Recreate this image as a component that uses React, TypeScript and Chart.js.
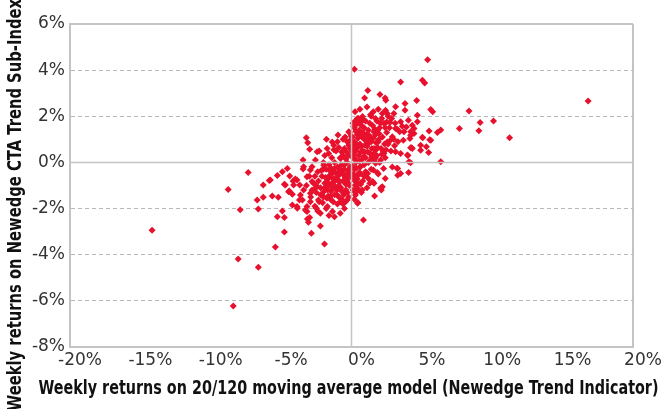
import React, { useEffect, useRef } from "react";
import { Chart, registerables } from "chart.js";

Chart.register(...registerables);

const xTitle = "Weekly returns on 20/120 moving average model (Newedge Trend Indicator)";
const yTitle = "Weekly returns on Newedge CTA Trend Sub-Index";

const xTicks = [-20, -15, -10, -5, 0, 5, 10, 15, 20];
const yTicks = [-8, -6, -4, -2, 0, 2, 4, 6];

// [x %, y %] — sparse points and outliers
const outerPoints: [number, number][] = [
  [16.81, 2.66], [-14.17, -2.94], [-8.4, -6.22], [-8.05, -4.19], [-6.62, -4.54], [-8.76, -1.17], [-7.91, -2.05],
  [-7.34, -0.44], [-6.62, -2.02], [-6.7, -1.63], [-6.27, -1.51], [-6.27, -0.98], [-5.84, -0.78], [-5.63, -1.46],
  [-5.2, -1.51], [-5.27, -0.57], [-4.91, -0.4], [-4.56, -0.26], [-4.77, -0.95], [-4.42, -1.24], [-4.2, -1.38],
  [-4.2, -1.84], [-3.85, -1.99], [-5.27, -2.35], [-4.77, -2.39], [-4.91, -2.1], [-4.77, -3.02], [-5.41, -3.67],
  [-3.13, -2.45], [-3.06, -2.59], [-2.85, -3.07], [-2.21, -2.2], [-2.21, -2.75], [-1.92, -3.54], [-1.35, -2.13],
  [-1.21, -2.35], [-3.28, -2.06], [-2.49, -1.99], [-1.71, -1.91], [-3.49, -1.63], [-2.92, -1.7], [-2.35, -1.63],
  [-0.78, -1.7], [-0.43, -1.7], [0.43, -1.77], [0.85, -2.49], [1.64, -1.46], [2.14, -1.08], [1.5, -0.83],
  [1.14, -0.48], [2.28, -0.26], [3.28, -0.26], [3.28, -0.56], [3.49, -0.48], [4.06, -0.44], [6.34, 0.03],
  [5.48, 0.43], [4.91, 0.53], [4.32, 0.6], [0.43, -1.2], [0.28, -0.98],
  [0.21, 4.04], [5.41, 4.45], [3.49, 3.49], [5.04, 3.56], [5.2, 3.44], [1.16, 3.12], [0.93, 2.79], [2.02, 2.94],
  [2.39, 2.79], [2.44, 2.69], [4.63, 2.68], [3.8, 2.55], [3.8, 2.26], [3.13, 2.41], [5.63, 2.29], [5.77, 2.2],
  [8.35, 2.23], [9.14, 1.73], [10.09, 1.8], [7.67, 1.47], [9.05, 1.37], [11.23, 1.07], [6.34, 1.41], [6.1, 1.3],
  [5.51, 1.36], [5.56, 0.98], [5.06, 1.07], [4.27, 0.64], [5.32, 0.68], [4.01, 0.3], [4.2, -0.01], [3.23, -0.25],
  [2.19, -1.05], [2.54, 2.12], [4.68, 2.04], [4.68, 1.76], [4.04, 1.83], [3.49, 1.76], [3.25, 1.44], [3.68, 0.96],
  [4.15, 1.04], [4.44, 1.25], [4.2, 1.33], [3.9, 1.54], [3.42, 1.33], [3.49, 0.39], [3.06, 0.72], [2.42, 2.26],
  [1.35, 2.07], [1.71, 1.9], [3.01, 2.12], [3.61, 1.57], [4.44, 1.47], [5.04, 1.09], [4.2, 1.18], [4.2, 0.64],
  [4.91, 0.75], [1.83, -0.44], [2.07, -1.12], [0.41, -1.12], [0.28, -1.41],
  [-3.21, 1.07], [-3.11, 0.85], [-1.78, 1.01], [-0.96, 1.19], [-2.97, 0.57], [-2.44, 0.46], [-3.44, 0.1],
  [-5.77, -0.76], [-4.39, -0.59], [-3.87, -0.76], [-3.44, -0.29], [-2.92, -0.33], [-4.11, -0.98], [-3.63, -1.41],
  [-4.47, -1.27], [-1.37, 0.89], [-1.26, 0.75], [-0.19, 1.33], [-0.02, 1.15], [-1.73, 0.6], [-1.62, 0.39],
  [-0.78, 0.17], [-2.56, 0.1], [-3.4, -0.19], [-2.8, -0.19], [-1.97, -0.12], [-4.15, -0.81], [-3.99, -0.72],
  [-3.7, -1.63], [-4.7, -0.98], [-3.68, -0.98], [-3.16, -0.62], [-3.87, -1.91], [-3.16, -1.91], [-3.16, -2.13],
  [-2.97, -2.39], [-3.4, -1.2], [-2.92, -1.34], [-2.56, -1.12], [-2.09, -1.41], [-1.5, -1.48], [-1.02, -1.41],
  [-0.78, -0.36], [-1.62, -0.69], [-2.8, -0.83], [-0.31, -0.76], [-0.31, -1.63],
  [1.35, 0.1], [1.71, -0.04], [2.07, 0.1], [1.55, -0.33], [0.64, -0.48], [0.41, -0.72], [0.64, -0.19],
  [2.12, -1.2], [0.76, -1.2], [0.45, -1.74], [2.19, 2.12], [0.64, 1.73], [2.73, 1.73], [4.32, 1.61], [3.13, 1.47],
  [3.73, 1.33], [5.63, 0.96], [2.9, 1.11], [2.54, 0.89], [3.97, 0.32], [3.13, 0.46], [2.3, 0.39], [1.71, 0.53],
  [1.23, 1.04], [1.59, 1.33], [0.52, 1.33], [0.41, 1.9], [4.08, 0.03], [0.28, 1.81], [0.14, 1.56], [0.78, 1.99],
];

// [x %, y %] — dense core of the cloud
const corePoints: [number, number][] = [
  [0.1, 0.2], [0.3, 0.5], [0.2, 0.9], [0.5, 0.3], [0.6, 0.8], [0.4, 1.2], [0.8, 0.5], [0.9, 1.0], [1.0, 0.2],
  [1.1, 0.7], [1.2, 1.4], [1.3, 0.4], [1.4, 0.9], [1.5, 1.6], [1.6, 0.6], [1.7, 1.2], [1.8, 0.3], [1.9, 0.9],
  [2.0, 1.5], [2.1, 0.6], [2.2, 1.1], [2.3, 1.7], [2.4, 0.2], [2.5, 1.3], [0.2, 1.5], [0.7, 1.6], [0.1, 0.6],
  [0.3, 0.0], [0.7, 0.1], [0.9, 1.5], [1.0, 1.8], [1.2, 0.0], [1.6, 0.1], [2.0, 0.0], [2.6, 0.8], [2.8, 0.5],
  [2.7, 1.5], [3.0, 1.0], [0.5, 1.9], [0.05, 1.1], [0.15, 0.35], [0.45, 0.65], [0.65, 0.45], [0.85, 0.25],
  [1.05, 1.2], [1.25, 0.85], [1.45, 0.25], [1.65, 1.45], [1.85, 0.65], [0.35, 0.8], [0.55, 1.4], [0.75, 1.1],
  [0.95, 0.75], [1.15, 0.45], [1.35, 1.1], [1.55, 0.35], [1.75, 0.85], [1.95, 1.25], [2.15, 0.35], [2.35, 0.8],
  [0.25, 2.2], [1.4, 2.0], [1.8, 1.8], [2.6, 2.0],
  [0.15, 0.75], [0.35, 1.65], [0.6, 2.3], [0.85, 1.85], [1.1, 2.4], [1.3, 1.7], [1.55, 2.2], [1.9, 2.3],
  [2.15, 1.9], [2.5, 1.75], [2.85, 1.9], [3.1, 1.7], [2.75, 0.95], [2.45, 0.55], [3.3, 0.9], [0.25, 0.15],
  [0.55, 0.05], [0.95, 0.45], [1.05, 0.95], [1.45, 0.6], [1.7, 0.2], [2.25, 0.5], [1.95, 1.0], [0.7, 0.7],
  [0.45, 1.05], [0.3, 1.35], [0.8, 1.3], [1.2, 1.2], [1.55, 1.05], [1.85, 1.4], [2.05, 1.7], [2.4, 1.5],
  [0.05, 0.45], [0.1, 1.7], [0.6, 1.15],
  [0.2, -0.3], [0.4, -0.6], [0.6, -0.2], [0.8, -0.8], [1.0, -0.4], [1.2, -0.7], [0.3, -1.0], [0.1, -0.7],
  [0.5, -0.9], [0.9, -0.1], [1.4, -0.3], [1.6, -0.9], [1.9, -0.5], [0.7, -1.3], [0.2, -1.6], [1.1, -1.1],
  [2.4, -0.7], [2.9, -0.2], [0.05, -0.15], [0.35, -0.25],
  [0.15, -0.5], [0.25, -0.8], [0.55, -0.45], [0.3, -1.3], [0.1, -1.2], [0.65, -0.95], [0.9, -0.6], [1.3, -0.9],
  [-0.1, -0.2], [-0.3, -0.5], [-0.2, -0.9], [-0.5, -0.3], [-0.6, -0.8], [-0.4, -1.2], [-0.8, -0.5], [-0.9, -1.0],
  [-1.0, -0.2], [-1.1, -0.7], [-1.2, -1.4], [-1.3, -0.4], [-1.4, -0.9], [-1.5, -1.6], [-1.6, -0.6], [-1.7, -1.2],
  [-1.8, -0.3], [-1.9, -0.9], [-2.0, -1.5], [-2.1, -0.6], [-2.2, -1.1], [-2.3, -1.7], [-2.4, -0.4], [-2.5, -1.3],
  [-2.7, -0.9], [-2.9, -1.5], [-0.2, -1.5], [-0.7, -1.6], [-0.1, -0.6], [-0.3, 0.0], [-0.7, -0.1], [-0.9, -1.5],
  [-1.0, -1.8], [-1.2, 0.0], [-1.6, -0.1], [-2.0, 0.0], [-0.45, -0.65], [-0.65, -0.45], [-0.85, -0.25],
  [-1.05, -1.2], [-1.25, -0.85], [-1.45, -0.25], [-1.65, -1.45], [-1.85, -0.65], [-0.35, -0.8], [-0.55, -1.4],
  [-0.75, -1.1], [-0.95, -0.75], [-1.15, -0.45], [-1.35, -1.1], [-1.55, -0.35], [-1.75, -0.85], [-1.95, -1.25],
  [-2.15, -0.35], [-2.35, -0.8], [-3.2, -1.0], [-2.6, -1.9], [-1.8, -2.0], [-0.5, -2.0], [-0.15, -1.0],
  [-0.25, -0.35], [-0.55, -0.55], [-0.85, -0.85], [-1.15, -1.05], [-1.45, -1.25], [-1.75, -1.55], [-2.05, -1.75],
  [-0.4, -0.95], [-0.7, -1.25], [-1.0, -0.6], [-1.3, -0.7], [-1.6, -1.0], [-1.9, -1.1], [-2.2, -1.4], [-2.5, -1.0],
  [-2.8, -1.2], [-0.15, -0.4], [-0.5, -0.1], [-0.9, -0.4], [-1.2, -0.25], [-1.5, -0.55], [-2.6, -0.6], [-0.3, -1.3],
  [-0.6, -1.8], [-1.3, -1.7], [-2.4, -2.1], [-1.6, -2.3], [-0.8, -2.2], [-3.0, -0.6], [-2.0, -0.3],
  [-0.2, 0.3], [-0.5, 0.6], [-0.8, 0.2], [-1.1, 0.5], [-0.3, 0.9], [-0.6, 1.0], [-1.4, 0.2], [-0.1, 0.6],
  [-1.0, 0.9], [-1.9, 0.3], [-0.4, 0.15], [-2.3, 0.5], [-0.15, 1.3], [-0.7, 0.45],
  [-0.35, 0.45], [-0.6, 0.3], [-0.9, 0.65], [-0.2, 0.75], [-1.25, 0.55], [-0.45, 1.1], [-0.1, 0.95],
];

const FONT = "'Liberation Sans Narrow', 'DejaVu Sans', sans-serif";
const FRAME = "#c4c4c4";
const GRID = "#b8b8b8";
const RED = "#e8112d";

function fitText(ctx: CanvasRenderingContext2D, text: string, cx: number, cy: number, target: number) {
  const w = ctx.measureText(text).width;
  const sx = Math.min(1, target / w);
  ctx.save();
  ctx.translate(cx, cy);
  ctx.scale(sx, 1);
  ctx.fillText(text, 0, 0);
  ctx.restore();
}

const overlayPlugin = {
  id: "overlayPlugin",
  afterDatasetsDraw(chart: any) {
    const { ctx, chartArea, scales } = chart;
    const x0 = scales.x.getPixelForValue(0);
    const y0 = scales.y.getPixelForValue(0);
    ctx.save();
    ctx.strokeStyle = FRAME;
    ctx.lineWidth = 1.5;
    ctx.beginPath();
    ctx.moveTo(x0, chartArea.top);
    ctx.lineTo(x0, chartArea.bottom);
    ctx.moveTo(chartArea.left, y0);
    ctx.lineTo(chartArea.right, y0);
    ctx.stroke();
    ctx.restore();
  },
  afterDraw(chart: any) {
    const { ctx, chartArea } = chart;
    ctx.save();
    ctx.fillStyle = "#111";
    ctx.font = `bold 19px ${FONT}`;
    ctx.textAlign = "center";
    ctx.textBaseline = "middle";
    fitText(ctx, xTitle, (chartArea.left + chartArea.right) / 2 - 3, chartArea.bottom + 42, 620);
    ctx.translate(16, 205);
    ctx.rotate(-Math.PI / 2);
    fitText(ctx, yTitle, 0, 0, 412);
    ctx.restore();
  },
};

export default function App() {
  const ref = useRef<HTMLCanvasElement | null>(null);
  useEffect(() => {
    document.body.style.margin = "0";
    if (!ref.current) return;
    const all = [...outerPoints, ...corePoints].map(([x, y]) => ({ x, y }));
    const chart = new Chart(ref.current, {
      type: "scatter",
      data: {
        datasets: [
          {
            data: all,
            pointStyle: "rectRot",
            pointRadius: 3.5,
            pointBackgroundColor: RED,
            pointBorderColor: RED,
            pointBorderWidth: 0,
          },
        ],
      },
      options: {
        responsive: false,
        animation: false,
        devicePixelRatio: 1,
        layout: { padding: { top: 24, right: 28, left: 0, bottom: 0 } },
        plugins: { legend: { display: false }, tooltip: { enabled: false } },
        scales: {
          x: {
            type: "linear",
            min: xTicks[0],
            max: xTicks[xTicks.length - 1],
            afterBuildTicks: (s: any) => {
              s.ticks = xTicks.map((v) => ({ value: v }));
            },
            afterFit: (s: any) => {
              s.height = 62;
            },
            ticks: {
              callback: (v: any) => `${v}%`,
              font: { family: FONT, size: 17, style: "condensed" as any },
              color: "#333",
              padding: 3,
              labelOffset: 10,
              maxRotation: 0,
              autoSkip: false,
            },
            grid: {
              drawTicks: false,
              color: (c: any) => (c.tick && c.tick.value === 20 ? FRAME : "rgba(0,0,0,0)"),
              lineWidth: 2,
            },
            border: { color: FRAME, width: 2 },
          },
          y: {
            min: yTicks[0],
            max: yTicks[yTicks.length - 1],
            afterBuildTicks: (s: any) => {
              s.ticks = yTicks.map((v) => ({ value: v }));
            },
            afterFit: (s: any) => {
              s.width = 70;
            },
            ticks: {
              callback: (v: any) => `${v}%`,
              font: { family: FONT, size: 17, style: "condensed" as any },
              color: "#333",
              padding: 5,
            },
            grid: {
              drawTicks: false,
              color: (c: any) => (c.tick && (c.tick.value === 0 || c.tick.value === 6) ? FRAME : GRID),
              lineWidth: (c: any) => (c.tick && c.tick.value === 6 ? 2 : 1),
            },
            border: {
              color: FRAME,
              width: 2,
              dash: (c: any) =>
                c.tick && c.tick.value !== 0 && c.tick.value !== 6 && c.tick.value !== -8 ? [4, 3] : [],
            },
          },
        },
      },
      plugins: [overlayPlugin],
    } as any);
    return () => chart.destroy();
  }, []);
  return (
    <div style={{ width: 661, height: 409 }}>
      <canvas ref={ref} width={661} height={409} style={{ display: "block" }} />
    </div>
  );
}
